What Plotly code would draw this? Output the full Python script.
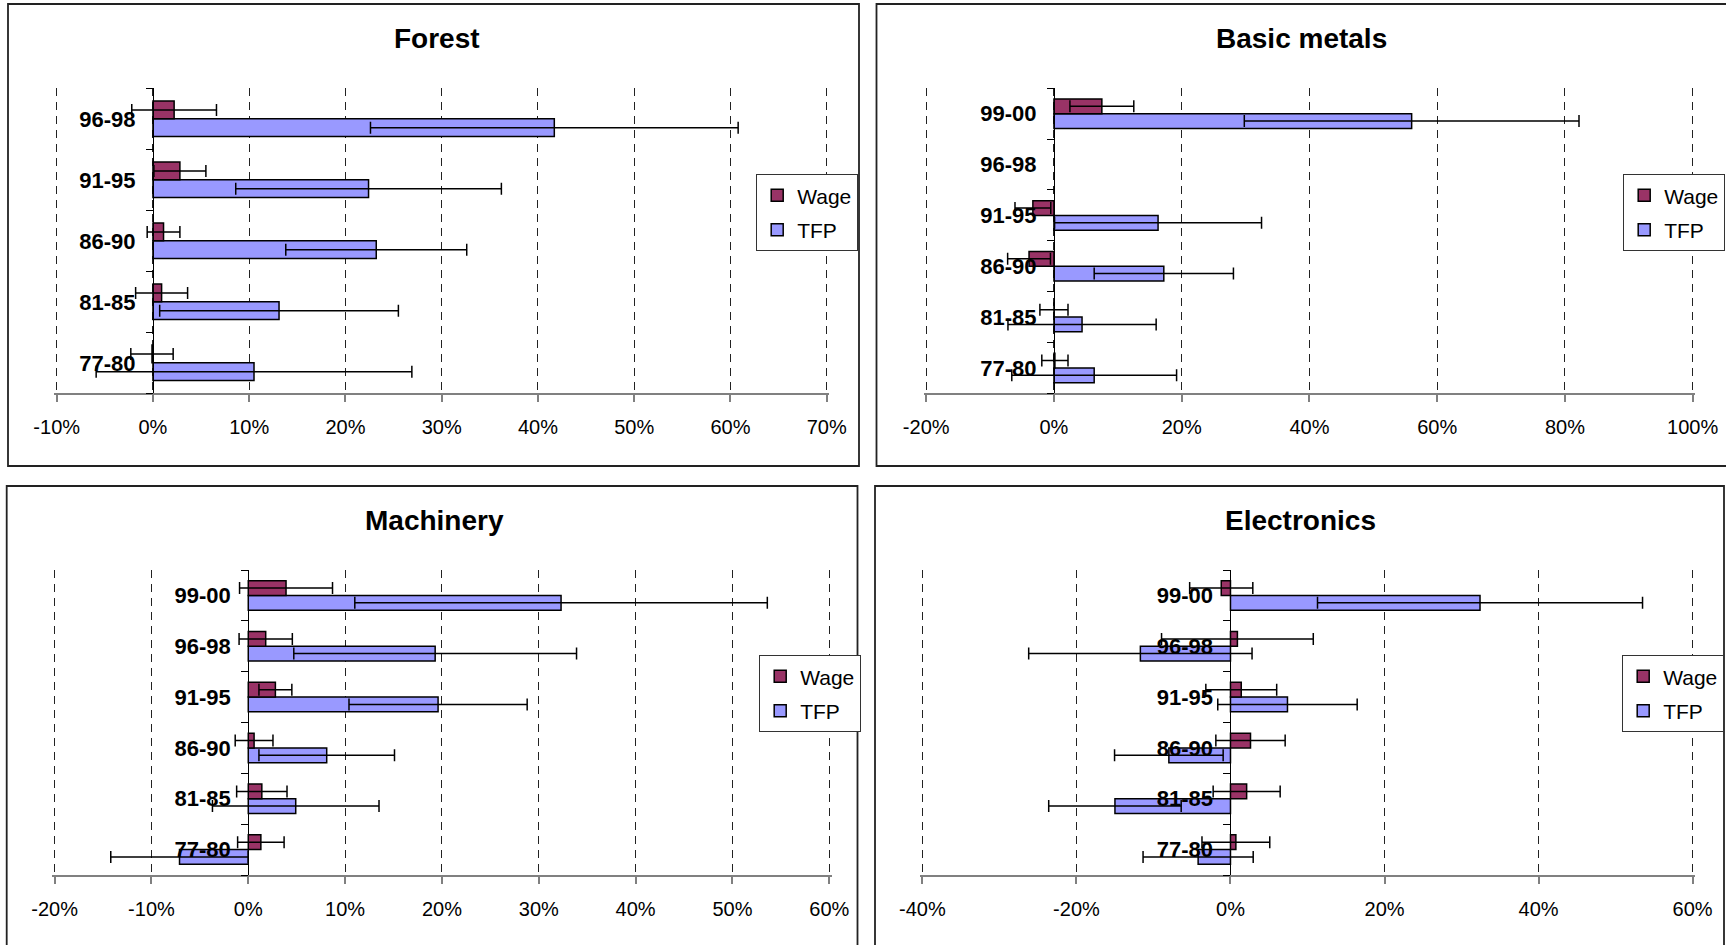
import plotly.graph_objects as go

# ---------------------------------------------------------------- data (%)
periods_5 = ["77-80", "81-85", "86-90", "91-95", "96-98"]
periods_6 = ["77-80", "81-85", "86-90", "91-95", "96-98", "99-00"]

forest_wage = [-0.1, 0.9, 1.1, 2.8, 2.2]
forest_wage_err = [2.2, 2.7, 1.7, 2.7, 4.4]
forest_tfp = [10.5, 13.1, 23.2, 22.4, 41.7]
forest_tfp_err = [16.4, 12.4, 9.4, 13.8, 19.1]

metals_wage = [0.15, 0.0, -3.9, -3.3, None, 7.5]
metals_wage_err = [2.05, 2.2, 3.35, 2.8, None, 5.0]
metals_tfp = [6.3, 4.4, 17.2, 16.3, None, 56.0]
metals_tfp_err = [12.9, 11.6, 10.9, 16.2, None, 26.2]

machinery_wage = [1.3, 1.4, 0.6, 2.8, 1.8, 3.9]
machinery_wage_err = [2.4, 2.6, 1.95, 1.7, 2.75, 4.8]
machinery_tfp = [-7.1, 4.9, 8.1, 19.6, 19.3, 32.3]
machinery_tfp_err = [7.1, 8.6, 7.0, 9.2, 14.6, 21.3]

electronics_wage = [0.7, 2.1, 2.6, 1.4, 0.9, -1.2]
electronics_wage_err = [4.4, 4.35, 4.5, 4.6, 9.85, 4.1]
electronics_tfp = [-4.2, -15.0, -8.0, 7.4, -11.7, 32.4]
electronics_tfp_err = [7.15, 8.6, 7.05, 9.05, 14.5, 21.1]

forest_ticks = [-10, 0, 10, 20, 30, 40, 50, 60, 70]
metals_ticks = [-20, 0, 20, 40, 60, 80, 100]
machinery_ticks = [-20, -10, 0, 10, 20, 30, 40, 50, 60]
electronics_ticks = [-40, -20, 0, 20, 40, 60]

# ---------------------------------------------------------------- styling
W, H = 1726, 945
FONT = "Liberation Sans, Arial, sans-serif"
WAGE_COLOR = "#993366"
TFP_COLOR = "#9999FF"
EDGE_PAD = 2.5  # px added at both ends so the outermost grid lines are kept


def fx(px):
    return px / W


def fy(py):
    return 1 - py / H


panels = [
    dict(title="Forest", cats=periods_5, wage=forest_wage, wage_err=forest_wage_err,
         tfp=forest_tfp, tfp_err=forest_tfp_err, ticks=forest_ticks,
         plot=(56.7, 826.7, 88.3, 393.3), frame=(8, 859, 4, 466),
         title_xy=(437, 38), legend_xy=(858, 174)),
    dict(title="Basic metals", cats=periods_6, wage=metals_wage, wage_err=metals_wage_err,
         tfp=metals_tfp, tfp_err=metals_tfp_err, ticks=metals_ticks,
         plot=(926.2, 1692.7, 88.3, 393.3), frame=(876.5, 1740, 4, 466),
         title_xy=(1301, 38), legend_xy=(1725, 174)),
    dict(title="Machinery", cats=periods_6, wage=machinery_wage, wage_err=machinery_wage_err,
         tfp=machinery_tfp, tfp_err=machinery_tfp_err, ticks=machinery_ticks,
         plot=(54.6, 829.3, 570, 875), frame=(6.7, 857.5, 486, 960),
         title_xy=(434, 520), legend_xy=(861, 655)),
    dict(title="Electronics", cats=periods_6, wage=electronics_wage, wage_err=electronics_wage_err,
         tfp=electronics_tfp, tfp_err=electronics_tfp_err, ticks=electronics_ticks,
         plot=(922.4, 1692.6, 570, 875), frame=(875, 1724, 486, 960),
         title_xy=(1300, 520), legend_xy=(1724, 655)),
]

fig = go.Figure()
layout = dict(
    width=W, height=H,
    margin=dict(l=0, r=0, t=0, b=0, pad=0, autoexpand=False),
    paper_bgcolor="white", plot_bgcolor="white",
    barmode="group", bargap=0.42, bargroupgap=0,
    font=dict(family=FONT, color="black", size=20),
    shapes=[], annotations=[],
)

for i, p in enumerate(panels, start=1):
    sfx = "" if i == 1 else str(i)
    xname, yname = "x" + sfx, "y" + sfx
    legname = "legend" + sfx
    x0, x1, y0, y1 = p["plot"]
    xmin, xmax = p["ticks"][0], p["ticks"][-1]
    span = xmax - xmin
    pad_val = span * EDGE_PAD / (x1 - x0)
    xdom = [fx(x0 - EDGE_PAD), fx(x1 + EDGE_PAD)]
    xrange = [xmin - pad_val, xmax + pad_val]
    ydom = [fy(y1), fy(y0)]

    # TFP first so it sits below Wage inside each group
    fig.add_trace(go.Bar(
        y=p["cats"], x=p["tfp"], orientation="h", name="TFP",
        legendgroup="tfp", legendrank=2,
        marker=dict(color=TFP_COLOR, line=dict(color="black", width=1.5)),
        error_x=dict(type="data", array=p["tfp_err"], symmetric=True,
                     color="black", thickness=1.5, width=6),
        xaxis=xname, yaxis=yname, legend=legname,
    ))
    fig.add_trace(go.Bar(
        y=p["cats"], x=p["wage"], orientation="h", name="Wage",
        legendgroup="wage", legendrank=1,
        marker=dict(color=WAGE_COLOR, line=dict(color="black", width=1.5)),
        error_x=dict(type="data", array=p["wage_err"], symmetric=True,
                     color="black", thickness=1.5, width=6),
        xaxis=xname, yaxis=yname, legend=legname,
    ))

    layout["xaxis" + sfx] = dict(
        domain=xdom, anchor=yname, range=xrange, automargin=False,
        tickvals=p["ticks"], ticktext=[f"{v}%" for v in p["ticks"]],
        showline=True, linecolor="#808080", linewidth=1.5,
        ticks="outside", ticklen=7, tickcolor="#808080", tickwidth=1.5,
        ticklabelstandoff=8,
        showgrid=True, gridcolor="#222222", gridwidth=1, griddash="8px,6px",
        zeroline=False, tickfont=dict(size=20, family=FONT, color="black"),
        fixedrange=True,
    )
    # category axis crosses the value axis at 0
    zero_pos = xdom[0] + (0 - xrange[0]) / (xrange[1] - xrange[0]) * (xdom[1] - xdom[0])
    layout["yaxis" + sfx] = dict(
        domain=ydom, anchor="free", position=zero_pos, automargin=False,
        type="category", categoryorder="array", categoryarray=p["cats"],
        range=[-0.5, len(p["cats"]) - 0.5],
        showline=True, linecolor="black", linewidth=1.2,
        ticks="outside", ticklen=7, tickcolor="black", tickwidth=1.2,
        tickson="boundaries", ticklabelstandoff=13,
        showgrid=False, zeroline=False,
        tickfont=dict(size=22, family=FONT, color="black", weight="bold"),
        fixedrange=True,
    )
    layout[legname] = dict(
        x=fx(p["legend_xy"][0]), y=fy(p["legend_xy"][1]),
        xanchor="right", yanchor="top",
        bgcolor="white", bordercolor="#333333", borderwidth=1.2,
        traceorder="grouped", tracegroupgap=4, itemwidth=30,
        font=dict(size=21, family=FONT, color="black"),
    )

    fx0, fx1, fy0, fy1 = p["frame"]
    layout["shapes"].append(dict(
        type="rect", xref="paper", yref="paper",
        x0=fx(fx0), x1=fx(fx1), y0=fy(fy1), y1=fy(fy0),
        line=dict(color="#222222", width=1.8), fillcolor="rgba(0,0,0,0)", layer="below",
    ))
    layout["annotations"].append(dict(
        text="<b>" + p["title"] + "</b>", xref="paper", yref="paper",
        x=fx(p["title_xy"][0]), y=fy(p["title_xy"][1]),
        xanchor="center", yanchor="middle", showarrow=False,
        font=dict(size=28, family=FONT, color="black"),
    ))

fig.update_layout(**layout)
fig.write_html("out.html")
